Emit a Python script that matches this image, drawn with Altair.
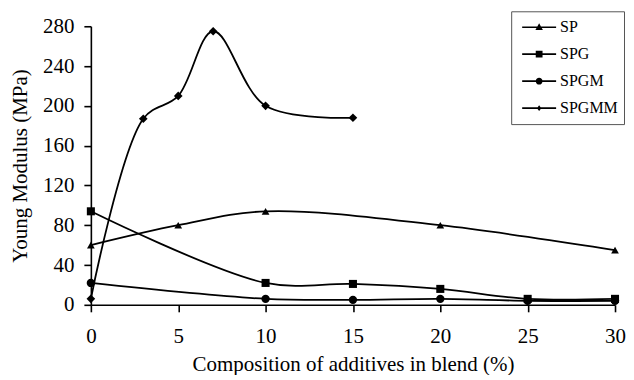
import altair as alt
import pandas as pd

sp_x = [0, 5, 10, 20, 30]
sp_y = [60, 80, 94, 80, 55]
spg_x = [0, 10, 15, 20, 25, 30]
spg_y = [94, 22, 21, 16, 6, 6]
spgm_x = [0, 10, 15, 20, 25, 30]
spgm_y = [22, 6, 5, 6, 4, 4]
spgmm_x = [0, 3, 5, 7, 10, 15]
spgmm_y = [6, 187, 210, 275, 200, 188]

x_ticks = [0, 5, 10, 15, 20, 25, 30]
y_ticks = [0, 40, 80, 120, 160, 200, 240, 280]

series = ["SP", "SPG", "SPGM", "SPGMM"]
shapes = ["triangle-up", "square", "circle", "diamond"]
sizes = [60, 75, 65, 45]
bar = "M-1,-0.05H1V0.05H-1Z"
legend_paths = [
    bar + "M0,-0.24L0.22,0.16H-0.22Z",
    bar + "M-0.2,-0.2H0.2V0.2H-0.2Z",
    bar + "M0.2,0A0.2,0.2 0 1,1 -0.2,0A0.2,0.2 0 1,1 0.2,0Z",
    bar + "M0,-0.17L0.13,0L0,0.17L-0.13,0Z",
]

rows = []
for name, xs, ys in [("SP", sp_x, sp_y), ("SPG", spg_x, spg_y),
                     ("SPGM", spgm_x, spgm_y), ("SPGMM", spgmm_x, spgmm_y)]:
    for x, y in zip(xs, ys):
        rows.append({"series": name, "entry": name, "x": x, "y": y})
df = pd.DataFrame(rows)

font = "Liberation Serif"
axis_style = dict(grid=False, domainColor="black", tickColor="black", labelFont=font,
                  titleFont=font, labelFontSize=21, titleFontSize=21, titleFontWeight="normal",
                  labelColor="black", titleColor="black", tickSize=7, domainWidth=1.6,
                  tickWidth=1.6, labelOverlap=False, labelBound=False, labelFlush=False)

x_enc = alt.X("x:Q", scale=alt.Scale(domain=[0, 30], nice=False, zero=False),
              axis=alt.Axis(values=x_ticks, tickCount=len(x_ticks),
                            title="Composition of additives in blend (%)",
                            labelPadding=14, titlePadding=7, **axis_style))
y_enc = alt.Y("y:Q", scale=alt.Scale(domain=[0, 280], nice=False, zero=False),
              axis=alt.Axis(values=y_ticks, tickCount=len(y_ticks),
                            title="Young Modulus (MPa)", labelPadding=10,
                            titlePadding=12, **axis_style))

base = alt.Chart(df).encode(x=x_enc, y=y_enc)

lines = base.mark_line(color="black", strokeWidth=1.8, interpolate="catmull-rom").encode(
    detail="series:N")

points = base.mark_point(color="black", filled=True, opacity=1).encode(
    shape=alt.Shape("series:N", scale=alt.Scale(domain=series, range=shapes), legend=None),
    size=alt.Size("series:N", scale=alt.Scale(domain=series, range=sizes), legend=None))

legend_layer = base.mark_point(color="black", filled=True, opacity=0).encode(
    shape=alt.Shape("entry:N", scale=alt.Scale(domain=series, range=legend_paths),
                    legend=alt.Legend(title=None, orient="none", legendX=421, legendY=-15,
                                      strokeColor="#555", padding=6, symbolOffset=5,
                                      labelFont=font, labelFontSize=16, labelColor="black",
                                      labelOffset=4, symbolFillColor="black",
                                      symbolStrokeWidth=0, symbolOpacity=1,
                                      symbolSize=1156, clipHeight=20, rowPadding=7)))

chart = alt.layer(lines, points, legend_layer).resolve_scale(shape="independent").properties(
    width=525, height=279, padding={"left": 1, "top": 2, "right": 0, "bottom": 0}
).configure_view(stroke=None)

chart.save("out.html", embed_options={"renderer": "svg", "actions": False})
